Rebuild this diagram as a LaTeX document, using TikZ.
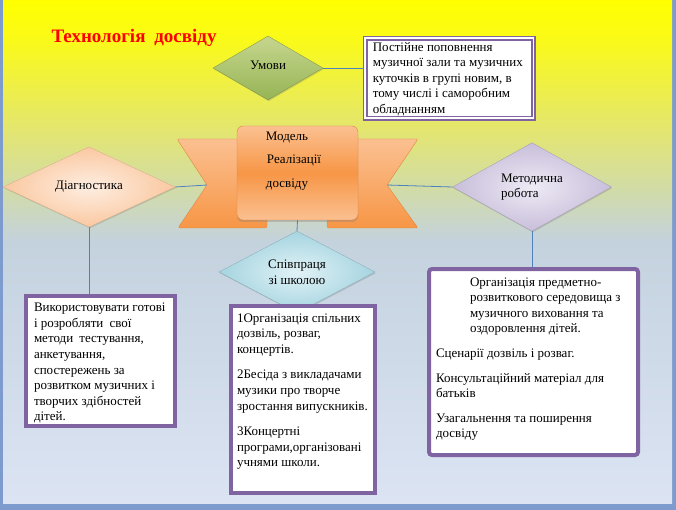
\documentclass[tikz,border=0pt]{standalone}
\usepackage{fontspec}
\setmainfont{Liberation Serif}
\usetikzlibrary{shapes.geometric,shadows,positioning}
\definecolor{frameblue}{RGB}{125,155,205}
\definecolor{bgtop}{RGB}{255,255,0}
\definecolor{bgyel}{RGB}{250,250,25}
\definecolor{bgolive}{RGB}{228,230,110}
\definecolor{bgmid}{RGB}{210,220,165}
\definecolor{bgblue}{RGB}{196,210,222}
\definecolor{bgbottom}{RGB}{220,228,244}
\definecolor{boxpurple}{RGB}{128,100,162}
\definecolor{linkblue}{RGB}{79,129,189}
\definecolor{orangemid}{RGB}{247,150,70}
\definecolor{orangelight}{RGB}{251,192,145}
\definecolor{peach}{RGB}{250,200,160}
\definecolor{peachlight}{RGB}{254,238,226}
\definecolor{lavender}{RGB}{200,190,218}
\definecolor{lavenderlight}{RGB}{238,234,245}
\definecolor{aqua}{RGB}{165,212,224}
\definecolor{aqualight}{RGB}{225,242,246}
\definecolor{olive}{RGB}{150,180,85}
\definecolor{olivelight}{RGB}{198,214,142}
\definecolor{titlered}{RGB}{255,0,0}
\pgfdeclareverticalshading{slidebg}{100bp}{color(0bp)=(bgbottom); color(25bp)=(bgbottom);
  color(51bp)=(bgblue); color(56.4bp)=(bgmid); color(62.3bp)=(bgolive); color(71.1bp)=(bgyel);
  color(75bp)=(bgtop); color(100bp)=(bgtop)}
\newcommand{\slidefont}{\fontsize{13}{15.6}\selectfont}
\tikzset{
  rhomb/.style={diamond,inner sep=0pt,font=\slidefont,align=center,
    drop shadow={shadow xshift=0.8pt,shadow yshift=-1.2pt,opacity=0.3}},
  note/.style={draw=boxpurple,line width=4pt,fill=white,anchor=north west,font=\slidefont},
  link/.style={draw=linkblue,line width=0.8pt},
  wing/.style={top color=orangelight,bottom color=orangemid,draw=orangemid!90!black,line width=0.4pt}
}

\begin{document}
\begin{tikzpicture}[x=1pt,y=-1pt]
\useasboundingbox (0,0) rectangle (676,510);
% slide background
\fill[frameblue] (0,0) rectangle (676,510);
\shade[shading=slidebg] (3,0) rectangle (672,503);

\node[font=\fontsize{19}{22}\selectfont\bfseries,text=titlered] (title) at (134,38) {Технологія\hspace{4pt} досвіду};

% ribbon
\coordinate (lnotch) at (207,185);
\coordinate (rnotch) at (387,185);
\draw[wing,rounded corners=2pt] (177,139) -- (245,139) -- (245,215) -- (267,215) -- (267,228) -- (178,228) -- (lnotch) -- cycle;
\draw[wing,rounded corners=2pt] (418,139) -- (350,139) -- (350,215) -- (327,215) -- (327,228) -- (418,228) -- (rnotch) -- cycle;
\node[draw=orangemid!90!black,line width=0.4pt,rounded corners=6pt,minimum width=121pt,minimum height=94pt,
  top color=orangelight,bottom color=orangelight,middle color=orangemid,
  drop shadow={shadow xshift=0pt,shadow yshift=-2pt,opacity=0.35}] (model) at (297.5,173) {};
\node[font=\slidefont,align=center] (modeltext) at (287,161) {Модель\\[8pt]\hspace*{14pt}Реалізації\\[8pt]досвіду};

% diamonds
\node[rhomb,minimum width=110pt,minimum height=64pt,top color=olivelight,bottom color=olive,draw=olive!80!black,line width=0.3pt] (umovy) at (268,68) {\raisebox{5pt}{Умови}};
\node[rhomb,minimum width=172pt,minimum height=68pt,inner color=peachlight,outer color=peach,draw=peach!85!black,line width=0.3pt] (diag) at (89,187) {\raisebox{4pt}{Діагностика}};
\node[rhomb,minimum width=159pt,minimum height=79pt,inner color=lavenderlight,outer color=lavender,draw=lavender!80!black,line width=0.3pt,align=left] (metod) at (532,187) {Методична\\робота};
\node[rhomb,minimum width=156pt,minimum height=55pt,inner color=aqualight,outer color=aqua,draw=aqua!80!black,line width=0.3pt] (spiv) at (297,272) {Співпраця\\зі школою};

% text boxes
\node[note,line width=1.6pt,double=white,double distance=1.6pt,inner xsep=7.6pt,inner ysep=4pt] (box1) at (364.4,37.4)
  {\parbox[t][72pt][t]{153pt}{\raggedright Постійне поповнення\\музичної зали та музичних\\куточків в групі новим, в\\тому числі і саморобним\\обладнанням}};
\node[note,inner xsep=8pt,inner ysep=7pt] (box2) at (24,294)
  {\parbox[t][116pt][t]{133pt}{\raggedright Використовувати готові\\і розробляти\hspace{3pt} свої\\методи\hspace{3pt} тестування,\\анкетування,\\спостережень за\\розвитком музичних і\\творчих здібностей\\дітей.}};
\node[note,inner xsep=6pt,inner ysep=7.5pt] (box3) at (229,304)
  {\parbox[t][172pt][t]{132pt}{\raggedright 1Організація спільних\\дозвіль, розваг,\\концертів.\par\vspace{10pt}
   2Бесіда з викладачами\\музики про творче\\зростання випускників.\par\vspace{10pt}
   3Концертні\\програми,організовані\\учнями школи.}};
\node[note,rounded corners=3pt,inner xsep=7pt,inner ysep=8.5pt] (box4) at (427,267)
  {\parbox[t][169pt][t]{195pt}{\raggedright {\leftskip=34pt Організація предметно-\\розвиткового середовища з\\музичного виховання та\\оздоровлення дітей.\par}\vspace{9pt}
   Сценарії дозвіль і розваг.\par\vspace{9pt}
   Консультаційний матеріал для\\батьків\par\vspace{9pt}
   Узагальнення та поширення\\досвіду}};

% connectors
\draw[link] (umovy.east) -- (umovy.east -| box1.west);
\draw[link] (diag.east) -- (lnotch);
\draw[link] (rnotch) -- (metod.west);
\draw[link] (model.south) -- (spiv.north);
\draw[link] (diag.south) -- (diag.south |- box2.north);
\draw[link] (metod.south) -- (metod.south |- box4.north);
\end{tikzpicture}
\end{document}
